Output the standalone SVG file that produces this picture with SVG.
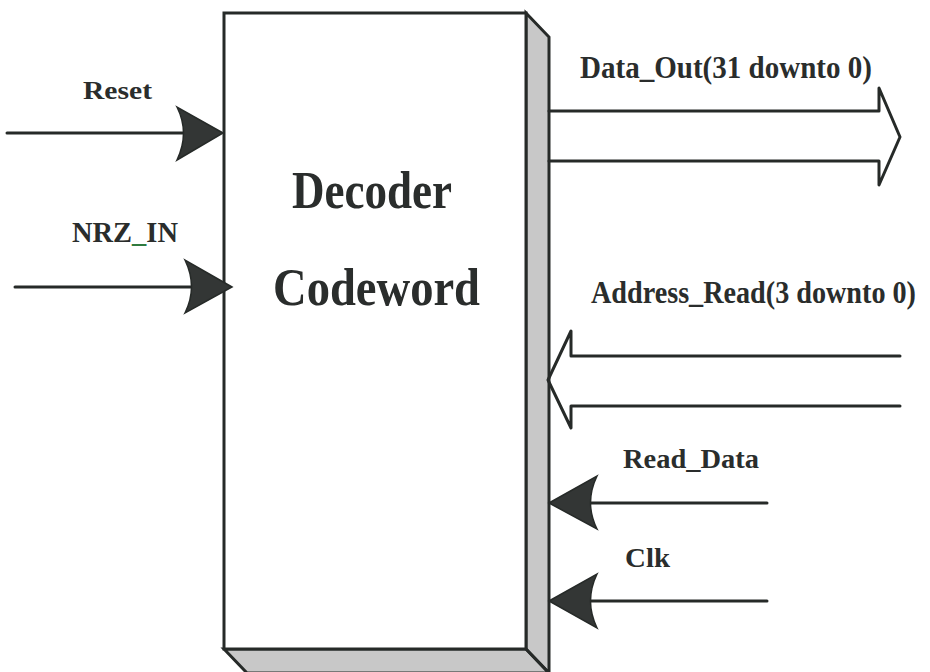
<svg xmlns="http://www.w3.org/2000/svg" width="930" height="672" viewBox="0 0 930 672">
<defs>
<style>
.ln{stroke:#262a28;stroke-width:3;fill:none;stroke-linecap:round;stroke-linejoin:round}
.ol{stroke:#262a28;stroke-width:3;fill:#fff;stroke-linejoin:miter}
.shf{fill:#c8c8c8;stroke:none}
.shs{fill:none;stroke:#262a28;stroke-width:3;stroke-linejoin:miter}
.hd{fill:#333635;stroke:#262a28;stroke-width:1.5}
.t{font-family:"Liberation Serif","Times New Roman",serif;font-weight:bold;fill:#2a2d2c}
</style>
</defs>
<rect width="930" height="672" fill="#fff"/>
<g id="decoder">
<polygon class="shf" points="526,13 549,37 549,673 526,649"/>
<polygon class="shf" points="224,649 526,649 549,673 247,673"/>
<polygon class="shs" points="526,13 549,37 549,673 526,649"/>
<polygon class="shs" points="224,649 526,649 549,673 247,673"/>
<rect class="ol" x="224" y="13" width="302" height="636"/>
<text class="t" x="292" y="208" font-size="52" textLength="160" lengthAdjust="spacingAndGlyphs">Decoder</text>
<text class="t" x="273" y="305" font-size="52" textLength="207" lengthAdjust="spacingAndGlyphs">Codeword</text>
</g>
<g id="connectors">
<g id="reset">
<line class="ln" x1="7" y1="133" x2="186" y2="133"/>
<path class="hd" d="M223,133 L177,107 Q190,133 177,160 Z"/>
<text class="t" x="83" y="99" font-size="25" textLength="69" lengthAdjust="spacingAndGlyphs">Reset</text>
</g>
<g id="nrz_in">
<line class="ln" x1="15" y1="287" x2="194" y2="287"/>
<path class="hd" d="M232,287 L185,260 Q198,287 185,313 Z"/>
<text class="t" x="72" y="242" font-size="29" textLength="106" lengthAdjust="spacingAndGlyphs">NRZ<tspan fill="#2f7a3e">_</tspan>IN</text>
</g>
<g id="data_out">
<path class="ln" d="M549,111 L879,111 L879,88 L900,137 L879,185 L879,161 L549,161"/>
<text class="t" x="580" y="78" font-size="31" textLength="292" lengthAdjust="spacingAndGlyphs">Data_Out(31 downto 0)</text>
</g>
<g id="address_read">
<path class="ln" d="M900,356 L571,356 L571,331 L548,380 L571,428 L571,406 L900,406"/>
<text class="t" transform="translate(591,303) scale(1,1.15)" x="0" y="0" font-size="27" textLength="325" lengthAdjust="spacingAndGlyphs">Address_Read(3 downto 0)</text>
</g>
<g id="read_data">
<line class="ln" x1="589" y1="503" x2="767" y2="503"/>
<path class="hd" d="M549,503 L597,476 Q584,503 597,529 Z"/>
<text class="t" x="623" y="468" font-size="28" textLength="136" lengthAdjust="spacingAndGlyphs">Read_Data</text>
</g>
<g id="clk">
<line class="ln" x1="589" y1="601" x2="767" y2="601"/>
<path class="hd" d="M549,601 L597,574 Q584,601 597,628 Z"/>
<text class="t" x="625" y="567" font-size="28" textLength="45" lengthAdjust="spacingAndGlyphs">Clk</text>
</g>
</g>
</svg>
